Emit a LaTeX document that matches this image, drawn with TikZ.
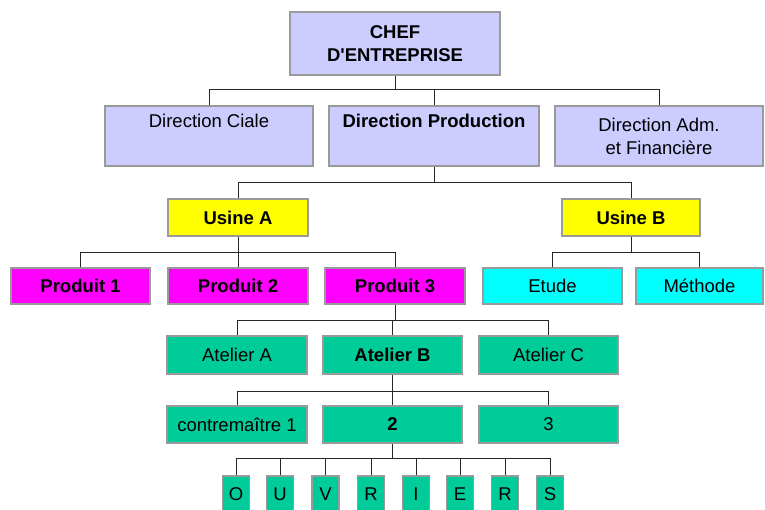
\documentclass[tikz,border=0pt]{standalone}
\usepackage{fontspec}
\setmainfont{Liberation Sans}[Ligatures=TeXOff]
\definecolor{lav}{HTML}{CCCCFF}
\definecolor{usine}{HTML}{FFFF00}
\definecolor{produit}{HTML}{FF00FF}
\definecolor{bureau}{HTML}{00FFFF}
\definecolor{atelier}{HTML}{00CC99}
\definecolor{edge}{HTML}{9A9A9A}
\begin{document}
\begin{tikzpicture}[x=1pt,y=-1pt,
  orgbox/.style={draw=edge, line width=1.2pt, inner sep=0pt, align=center,
    font=\fontsize{18.5}{23}\selectfont},
  bold/.style={font=\fontsize{18.5}{23}\selectfont\bfseries},
  link/.style={draw=black!85, line width=1pt},
  wide/.style={minimum width=#1pt}]
\useasboundingbox (0,0) rectangle (765,509);
\fill[white] (0,0) rectangle (765,509);

% --- level 1 and 2
\node[orgbox, bold, fill=lav, wide=210, minimum height=63pt] (chef) at (395,43.5) {CHEF\\D'ENTREPRISE};
\node[orgbox, fill=lav, wide=208, minimum height=60pt] (dc) at (209,136) {Direction Ciale\\\strut};
\node[orgbox, bold, fill=lav, wide=210, minimum height=60pt] (dp) at (434,136) {Direction Production\\\strut};
\node[orgbox, fill=lav, wide=208, minimum height=60pt] (da) at (659,136) {Direction Adm.\\et Financière};

% --- factories
\node[orgbox, bold, fill=usine, wide=140, minimum height=37pt] (ua) at (238,217.5) {Usine A};
\node[orgbox, bold, fill=usine, wide=138, minimum height=37pt] (ub) at (631,217.5) {Usine B};

% --- products and services
\node[orgbox, bold, fill=produit, wide=139, minimum height=36pt] (p1) at (80.5,286) {Produit 1};
\node[orgbox, bold, fill=produit, wide=140, minimum height=36pt] (p2) at (238,286) {Produit 2};
\node[orgbox, bold, fill=produit, wide=140, minimum height=36pt] (p3) at (395,286) {Produit 3};
\node[orgbox, fill=bureau, wide=139, minimum height=36pt] (et) at (552.5,286) {Etude};
\node[orgbox, fill=bureau, wide=127, minimum height=36pt] (me) at (699.5,286) {Méthode};

% --- workshops
\node[orgbox, fill=atelier, wide=140, minimum height=38pt] (aa) at (237,355) {Atelier A};
\node[orgbox, bold, fill=atelier, wide=139, minimum height=38pt] (ab) at (392.5,355) {Atelier B};
\node[orgbox, fill=atelier, wide=139, minimum height=38pt] (ac) at (548.5,355) {Atelier C};

% --- foremen
\node[orgbox, fill=atelier, wide=140, minimum height=37pt] (c1) at (237,424.5) {contremaître 1};
\node[orgbox, bold, fill=atelier, wide=139, minimum height=37pt] (c2) at (392.5,424.5) {2};
\node[orgbox, fill=atelier, wide=139, minimum height=37pt] (c3) at (548.5,424.5) {3};

% --- workers
\foreach \x/\l [count=\i] in {236/O,280/U,325.5/V,371/R,416/I,460/E,505/R,550/S}
  \node[orgbox, fill=atelier, wide=27, minimum height=37pt] (w\i) at (\x,494.5) {\l};

% --- bus lines
\coordinate (b1) at (0,89);
\coordinate (b2) at (0,182);
\coordinate (b3) at (0,252);
\coordinate (b4) at (0,320);
\coordinate (b5) at (0,391);
\coordinate (b6) at (0,458);

\draw[link] (chef.south) -- (chef.south |- b1);
\draw[link] (dc.north) |- (da.north |- b1) -- (da.north);
\draw[link] (dp.north) -- (dp.north |- b1);

\draw[link] (dp.south) -- (dp.south |- b2);
\draw[link] (ua.north) |- (ub.north |- b2) -- (ub.north);

\draw[link] (ua.south) -- (ua.south |- b3);
\draw[link] (p1.north) |- (p3.north |- b3) -- (p3.north);
\draw[link] (p2.north) -- (p2.north |- b3);

\draw[link] (ub.south) -- (ub.south |- b3);
\draw[link] (et.north) |- (me.north |- b3) -- (me.north);

\draw[link] (p3.south) -- (p3.south |- b4);
\draw[link] (aa.north) |- (ac.north |- b4) -- (ac.north);
\draw[link] (ab.north) -- (ab.north |- b4);

\draw[link] (ab.south) -- (ab.south |- b5);
\draw[link] (c1.north) |- (c3.north |- b5) -- (c3.north);
\draw[link] (c2.north) -- (c2.north |- b5);

\draw[link] (c2.south) -- (c2.south |- b6);
\draw[link] (w1.north) |- (w8.north |- b6) -- (w8.north);
\foreach \i in {2,...,7}
  \draw[link] (w\i.north) -- (w\i.north |- b6);
\end{tikzpicture}
\end{document}
